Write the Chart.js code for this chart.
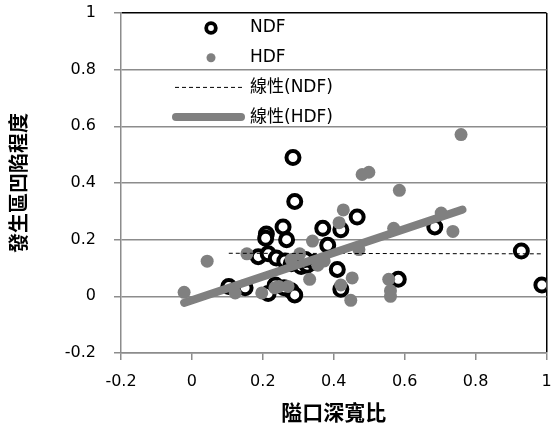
<!DOCTYPE html>
<html>
<head>
<meta charset="utf-8">
<script src="https://cdn.jsdelivr.net/npm/chart.js@4"></script>
<style>
  body { margin: 0; background: #fff; }
  canvas { display: block; }
</style>
</head>
<body>
<canvas id="chart" width="557" height="430"></canvas>
<script>
// NDF points (black rings)
const ndfX = [0.104, 0.150, 0.215, 0.280, 0.290, 0.235, 0.260,
              0.187, 0.215, 0.238, 0.262, 0.280, 0.308, 0.325, 0.345, 0.320,
              0.210, 0.208, 0.257, 0.267, 0.285, 0.290,
              0.369, 0.383, 0.420, 0.466, 0.410, 0.420, 0.582,
              0.685, 0.929, 0.987];
const ndfY = [0.035, 0.030, 0.010, 0.020, 0.005, 0.040, 0.030,
              0.140, 0.150, 0.135, 0.125, 0.115, 0.105, 0.110, 0.120, 0.130,
              0.220, 0.205, 0.245, 0.200, 0.490, 0.335,
              0.240, 0.180, 0.235, 0.280, 0.095, 0.025, 0.060,
              0.245, 0.160, 0.040];

// HDF points (gray dots)
const hdfX = [-0.022, 0.043, 0.122, 0.155, 0.197, 0.234, 0.271, 0.245,
              0.280, 0.304, 0.332, 0.355, 0.373, 0.340, 0.415, 0.427,
              0.420, 0.448, 0.452, 0.471, 0.480, 0.499, 0.555, 0.560,
              0.560, 0.569, 0.585, 0.703, 0.736, 0.759];
const hdfY = [0.014, 0.124, 0.012, 0.150, 0.012, 0.030, 0.035, 0.035,
              0.130, 0.150, 0.060, 0.110, 0.125, 0.195, 0.260, 0.305,
              0.040, -0.014, 0.065, 0.165, 0.430, 0.438, 0.060, 0.000,
              0.020, 0.240, 0.374, 0.294, 0.229, 0.571];

// linear trend lines
const ndfTrendX = [0.104, 0.987];
const ndfTrendY = [0.152, 0.150];
const hdfTrendX = [-0.022, 0.763];
const hdfTrendY = [-0.023, 0.306];

const xTicks = [-0.2, 0, 0.2, 0.4, 0.6, 0.8, 1];
const yTicks = [-0.2, 0, 0.2, 0.4, 0.6, 0.8, 1];

const zip = (xs, ys) => xs.map((x, i) => ({x: x, y: ys[i]}));
const fmt = v => String(Math.round(v * 10) / 10);
const FONT = "'DejaVu Sans', 'Noto Sans CJK TC', sans-serif";
const TITLE_FONT = "'Noto Sans CJK TC', sans-serif";
const GRID = '#8c8c8c';

// legend drawn inside the plot, one entry per row
const legendRows = [
    {text: 'NDF', kind: 'ring'},
    {text: 'HDF', kind: 'dot'},
    {text: '線性(NDF)', kind: 'dash'},
    {text: '線性(HDF)', kind: 'thick'}
];

const insideLegend = {
    id: 'insideLegend',
    afterDraw(chart) {
        const ctx = chart.ctx;
        const area = chart.chartArea;
        const mx = area.left + 90;
        ctx.save();
        ctx.font = '17px ' + FONT;
        ctx.textBaseline = 'middle';
        ctx.fillStyle = '#000';
        legendRows.forEach((row, i) => {
            const y = area.top + 15 + i * 29.7;
            if (row.kind === 'ring') {
                ctx.beginPath();
                ctx.arc(mx, y, 4.8, 0, Math.PI * 2);
                ctx.fillStyle = '#fff';
                ctx.fill();
                ctx.lineWidth = 3.8;
                ctx.strokeStyle = '#000';
                ctx.stroke();
            } else if (row.kind === 'dot') {
                ctx.beginPath();
                ctx.arc(mx, y, 4.5, 0, Math.PI * 2);
                ctx.fillStyle = '#808080';
                ctx.fill();
            } else if (row.kind === 'dash') {
                ctx.beginPath();
                ctx.setLineDash([4, 3]);
                ctx.lineWidth = 1;
                ctx.strokeStyle = '#000';
                ctx.moveTo(mx - 36, y);
                ctx.lineTo(mx + 33, y);
                ctx.stroke();
                ctx.setLineDash([]);
            } else {
                ctx.beginPath();
                ctx.lineWidth = 8;
                ctx.lineCap = 'round';
                ctx.strokeStyle = '#808080';
                ctx.moveTo(mx - 35, y);
                ctx.lineTo(mx + 30, y);
                ctx.stroke();
                ctx.lineCap = 'butt';
            }
            ctx.fillStyle = '#000';
            ctx.fillText(row.text, mx + 39, y);
        });
        ctx.restore();
    }
};

new Chart(document.getElementById('chart'), {
    type: 'scatter',
    data: {
        datasets: [{
            label: '線性(HDF)',
            data: zip(hdfTrendX, hdfTrendY),
            showLine: true,
            borderColor: '#808080',
            borderWidth: 8,
            borderCapStyle: 'round',
            pointRadius: 0,
            order: 0
        }, {
            label: '線性(NDF)',
            data: zip(ndfTrendX, ndfTrendY),
            showLine: true,
            borderColor: '#000',
            borderWidth: 1,
            borderDash: [4, 3],
            pointRadius: 0,
            order: 1
        }, {
            label: 'HDF',
            data: zip(hdfX, hdfY),
            backgroundColor: '#808080',
            borderWidth: 0,
            pointRadius: 6.5,
            order: 2
        }, {
            label: 'NDF',
            data: zip(ndfX, ndfY),
            backgroundColor: '#fff',
            borderColor: '#000',
            borderWidth: 4,
            pointRadius: 6.5,
            order: 3
        }]
    },
    options: {
        responsive: false,
        animation: false,
        layout: {padding: {top: 13, right: 5, left: 0, bottom: 0}},
        plugins: {
            legend: {display: false},
            tooltip: {enabled: false}
        },
        scales: {
            x: {
                type: 'linear',
                min: -0.2,
                max: 1,
                afterBuildTicks: s => { s.ticks = xTicks.map(v => ({value: v})); },
                afterFit: s => { s.height = 77; s.paddingLeft = 0; s.paddingRight = 0; },
                grid: {
                    color: c => (c.tick && c.tick.value === 1) ? '#000' : 'rgba(0,0,0,0)',
                    lineWidth: 1.5,
                    tickLength: 7,
                    tickColor: GRID,
                    tickWidth: 1.5
                },
                border: {color: GRID, width: 1.5},
                ticks: {
                    callback: fmt,
                    font: {family: FONT, size: 16},
                    color: '#000',
                    padding: 12,
                    maxRotation: 0
                },
                title: {
                    display: true,
                    text: '隘口深寬比',
                    font: {family: TITLE_FONT, size: 21, weight: 'bold'},
                    color: '#000',
                    padding: {top: 0, bottom: 5}
                }
            },
            y: {
                min: -0.2,
                max: 1,
                afterBuildTicks: s => { s.ticks = yTicks.map(v => ({value: v})); },
                afterFit: s => { s.width = 121; s.paddingTop = 0; s.paddingBottom = 0; },
                grid: {
                    color: c => (c.tick && c.tick.value === 1) ? '#000' : GRID,
                    lineWidth: 1.5,
                    tickLength: 7,
                    tickColor: GRID,
                    tickWidth: 1.5
                },
                border: {color: GRID, width: 1.5},
                ticks: {
                    callback: fmt,
                    font: {family: FONT, size: 16},
                    color: '#000',
                    padding: 18
                },
                title: {
                    display: true,
                    text: '發生區凹陷程度',
                    font: {family: TITLE_FONT, size: 20, weight: 'bold'},
                    color: '#000',
                    padding: {top: 6, bottom: 0}
                }
            }
        }
    },
    plugins: [insideLegend]
});
</script>
</body>
</html>
